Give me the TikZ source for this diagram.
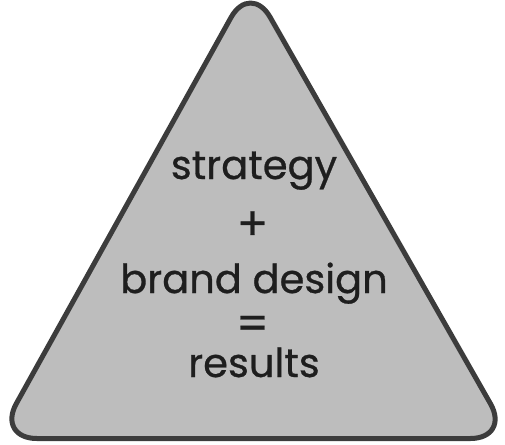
\documentclass[tikz,border=0pt]{standalone}
\usepackage{fontspec}
\setmainfont{Poppins}[FakeBold=0.7]
\usetikzlibrary{calc}
\definecolor{trifill}{HTML}{BDBDBD}
\definecolor{tridraw}{HTML}{3C3C3C}
\definecolor{txt}{HTML}{1E1E1E}
\begin{document}
\begin{tikzpicture}[x=1pt,y=-1pt,
  word/.style={anchor=base,inner sep=0pt,text=txt,font=\fontsize{40}{48}\selectfont},
  sym/.style={anchor=base,inner sep=0pt,text=txt,font=\fontsize{46}{50}\selectfont}]
\useasboundingbox (0,0) rectangle (505,444);
\coordinate (apex) at (250.4,-17.4);
\coordinate (bl) at (-3.1,438.5);
\coordinate (br) at (510.3,438.5);
\clip (0,0) rectangle (505,444);
\filldraw[fill=trifill,draw=tridraw,line width=5pt,rounded corners=40pt,line join=round]
  ($(apex)!0.5!(bl)$) -- (bl) -- (br) -- (apex) -- cycle;
\node[word] (s) at (254,179) {strategy};
\node[sym] (p) at (252.5,240) {+};
\node[word] (b) at (254,293) {brand design};
\node[sym] (e) at (252.5,339.5) {=};
\node[word] (r) at (254,377) {results};
\end{tikzpicture}
\end{document}
